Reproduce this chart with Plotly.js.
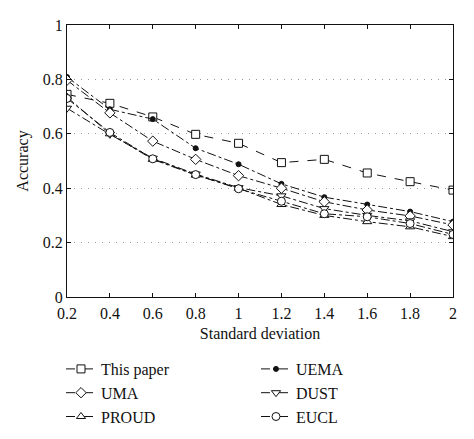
<!DOCTYPE html>
<html>
<head>
<meta charset="utf-8">
<script src="https://cdn.plot.ly/plotly-3.0.1.min.js"></script>
<style>
  html, body { margin: 0; padding: 0; background: #fff; }
  #chart { width: 474px; height: 439px; }
</style>
</head>
<body>
<div id="chart"></div>
<script>
// Accuracy against standard deviation, six methods

const stdDev = [0.2, 0.4, 0.6, 0.8, 1.0, 1.2, 1.4, 1.6, 1.8, 2.0];

const thisPaper = [0.745, 0.712, 0.662, 0.598, 0.565, 0.494, 0.506, 0.456, 0.424, 0.393];
const uema      = [0.809, 0.690, 0.654, 0.547, 0.488, 0.416, 0.367, 0.340, 0.314, 0.277];
const uma       = [0.797, 0.677, 0.573, 0.506, 0.446, 0.400, 0.350, 0.320, 0.298, 0.265];
const dust      = [0.694, 0.598, 0.510, 0.452, 0.402, 0.372, 0.325, 0.300, 0.280, 0.240];
const proud     = [0.735, 0.600, 0.506, 0.448, 0.400, 0.340, 0.300, 0.277, 0.258, 0.222];
const eucl      = [0.730, 0.605, 0.508, 0.450, 0.398, 0.352, 0.306, 0.295, 0.270, 0.230];

const yTicks = [0, 0.2, 0.4, 0.6, 0.8, 1];
const yTickText = ['0', '0.2', '0.4', '0.6', '0.8', '1'];
const xTickText = ['0.2', '0.4', '0.6', '0.8', '1', '1.2', '1.4', '1.6', '1.8', '2'];

const FONT = 'Liberation Serif, Times New Roman, serif';

// one marker trace, black line
function series(name, values, dash, symbol, filled) {
    return {
        x: stdDev,
        y: values,
        name: name,
        type: 'scatter',
        mode: 'lines+markers',
        line: { color: '#111', width: 1, dash: dash },
        marker: {
            symbol: symbol,
            size: filled ? 5 : 8,
            color: filled ? '#111' : '#fff',
            line: { color: '#111', width: 1 }
        }
    };
}

// legend order goes row by row: left column, right column
const traces = [
    series('This paper', thisPaper, 'dash', 'square', false),
    series('UEMA', uema, 'dashdot', 'circle', true),
    series('UMA', uma, 'dashdot', 'diamond', false),
    series('DUST', dust, 'dashdot', 'triangle-down', false),
    series('PROUD', proud, 'dashdot', 'triangle-up', false),
    series('EUCL', eucl, 'dashdot', 'circle', false)
];

const layout = {
    width: 474,
    height: 439,
    margin: { l: 67, r: 21, t: 25, b: 142 },
    paper_bgcolor: '#fff',
    plot_bgcolor: '#fff',
    font: { family: FONT, size: 16, color: '#111' },
    showlegend: true,
    legend: {
        orientation: 'h',
        xref: 'container',
        yref: 'container',
        x: 61 / 474,
        xanchor: 'left',
        y: (439 - 352) / 439,
        yanchor: 'top',
        entrywidth: 150,
        entrywidthmode: 'pixels',
        font: { family: FONT, size: 16, color: '#111' },
        bgcolor: 'rgba(0,0,0,0)'
    },
    xaxis: {
        range: [0.2, 2.0],
        tickmode: 'array',
        tickvals: stdDev,
        ticktext: xTickText,
        ticks: 'inside',
        ticklen: 4,
        tickcolor: '#111',
        ticklabelstandoff: 2,
        showline: true,
        linecolor: '#111',
        linewidth: 1,
        mirror: 'ticks',
        showgrid: false,
        zeroline: false,
        title: { text: 'Standard deviation', font: { family: FONT, size: 16 }, standoff: 6 }
    },
    yaxis: {
        range: [0, 1],
        tickmode: 'array',
        tickvals: yTicks,
        ticktext: yTickText,
        ticks: 'inside',
        ticklen: 4,
        tickcolor: '#111',
        showline: true,
        linecolor: '#111',
        linewidth: 1,
        mirror: 'ticks',
        showgrid: true,
        gridcolor: '#999',
        gridwidth: 1,
        griddash: '1px,6px',
        zeroline: false,
        title: { text: 'Accuracy', font: { family: FONT, size: 16 }, standoff: 10 }
    }
};

Plotly.newPlot('chart', traces, layout, { displayModeBar: false, staticPlot: true });
</script>
</body>
</html>
